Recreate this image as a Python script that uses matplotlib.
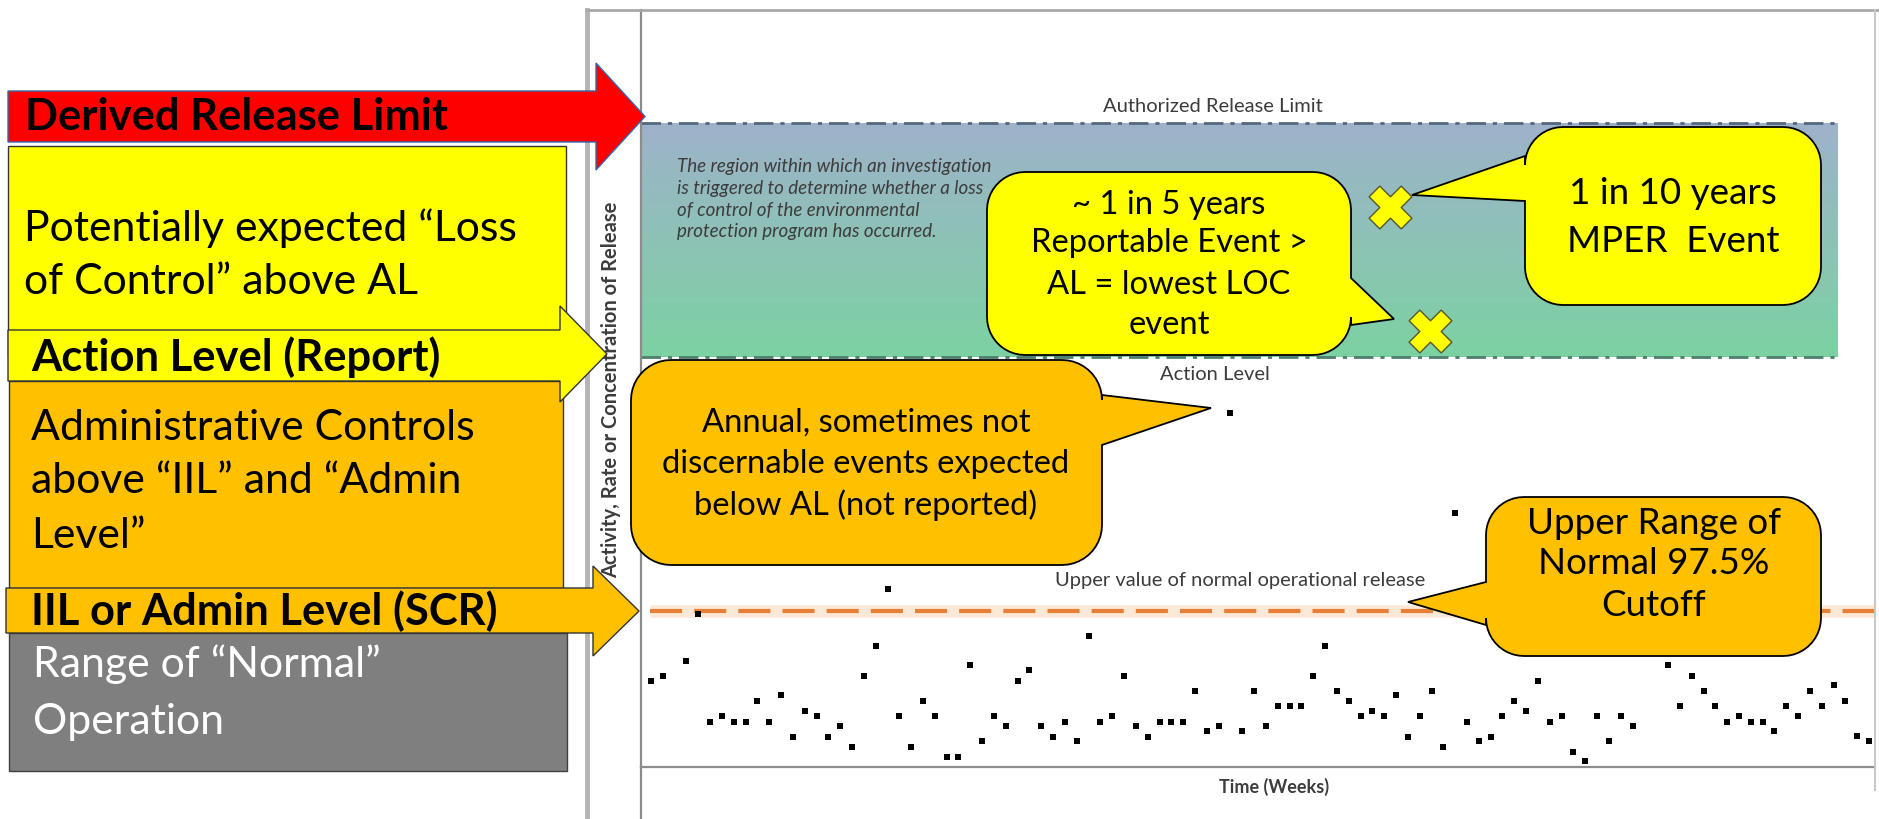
import numpy as np
import matplotlib
matplotlib.use("Agg")
import matplotlib.pyplot as plt
from matplotlib.patches import Polygon

plt.rcParams["font.family"] = ["Lato", "DejaVu Sans"]

# weekly release measurements (arbitrary activity units)
weeks = [1, 2, 4, 5, 6, 7, 8, 9, 10, 11, 12, 13, 14, 15, 16, 17, 18, 19, 20,
         21, 22, 23, 24, 25, 26, 27, 28, 29, 30, 31, 32, 33, 34, 35, 36, 37, 38,
         39, 40, 41, 42, 43, 44, 45, 46, 47, 48, 49, 50, 51, 52, 53, 54, 55, 56,
         57, 58, 59, 60, 61, 62, 63, 64, 65, 66, 67, 68, 69, 70, 71, 72, 73, 74,
         75, 76, 77, 78, 79, 80, 81, 82, 83, 84, 87, 88, 89, 90, 91, 92, 93, 94,
         95, 96, 97, 98, 99, 100, 101, 102, 103, 104]
release = [11.4, 12.0, 14.0, 20.2, 5.9, 6.7, 5.9, 5.9, 8.7, 5.9, 9.5, 4.0, 7.4,
           6.7, 4.0, 5.4, 2.6, 12.0, 16.0, 23.5, 6.7, 2.6, 8.7, 6.7, 1.3, 1.3,
           13.5, 3.4, 6.7, 5.4, 11.4, 12.8, 5.4, 4.0, 5.9, 3.4, 17.3, 5.9, 6.7,
           12.0, 5.4, 4.0, 5.9, 5.9, 5.9, 10.0, 4.8, 5.4, 46.8, 4.8, 10.0, 5.4,
           8.1, 8.1, 8.1, 12.0, 16.0, 10.0, 8.7, 6.7, 7.4, 6.7, 9.5, 4.0, 6.7,
           10.0, 2.6, 33.6, 5.9, 3.4, 4.0, 6.7, 8.7, 7.4, 11.4, 5.9, 6.7, 2.0,
           0.8, 6.7, 3.4, 6.7, 5.4, 13.5, 8.1, 12.0, 10.0, 8.1, 5.9, 6.7, 5.9,
           5.9, 4.8, 8.1, 6.7, 10.0, 8.1, 10.8, 8.7, 4.1, 3.4]

normal_upper = 20.6
action_level = 54.2
release_limit = 85.1
band_end_week = 101.3

# loss-of-control events marked with a cross
event_weeks = [63.5, 66.9]
event_values = [74.0, 57.6]

W, H = 1879, 819
fig = plt.figure(figsize=(W / 100, H / 100), dpi=100)

# ---- chart area -----------------------------------------------------------
ax_l, ax_r, ax_t, ax_b = 641, 1875, 10, 767
ax = fig.add_axes([ax_l / W, (H - ax_b) / H, (ax_r - ax_l) / W, (ax_b - ax_t) / H])
ax.set_xlim(0.154, 104.5)
ax.set_ylim(0, 100)
ax.set_xticks([])
ax.set_yticks([])
for side in ("top", "right"):
    ax.spines[side].set_visible(False)
for side in ("left", "bottom"):
    ax.spines[side].set_color("#8c8c8c")
    ax.spines[side].set_linewidth(1.6)

grad = np.linspace(0, 1, 256).reshape(-1, 1)
top_c = np.array([158, 178, 202]) / 255
bot_c = np.array([124, 210, 162]) / 255
img = (grad[..., None] * bot_c + (1 - grad[..., None]) * top_c)
ax.imshow(img, extent=[0.154, band_end_week, action_level, release_limit],
          aspect="auto", origin="upper", zorder=1)

ax.hlines(release_limit, 0.154, band_end_week, colors="#55677e", lw=2,
          linestyles=(0, (7, 2.5, 1.5, 2.5)), zorder=2)
ax.hlines(action_level, 0.154, band_end_week, colors="#4c7f6e", lw=2,
          linestyles=(0, (7, 2.5, 1.5, 2.5)), zorder=2)
ax.hlines(normal_upper, 0.9, 104.5, colors="#fbd9bd", lw=9, alpha=0.6, zorder=2)
ax.hlines(normal_upper, 0.9, 104.5, colors="#e67f37", lw=3,
          linestyles=(0, (7.7, 2.9)), zorder=2)

ax.scatter(weeks, release, marker="s", s=20, color="black", lw=0, zorder=4)
ax.scatter(event_weeks, event_values, marker="X", s=950, color="#ffff00",
           edgecolors="#555533", linewidths=1, zorder=5)

small = dict(color="#3c3c3c", fontsize=14.5)
ax.text(48.5, release_limit + 2.1, "Authorized Release Limit", ha="center", va="center", **small)
ax.text(48.7, action_level - 2.3, "Action Level", ha="center", va="center", **small)
ax.text(50.8, normal_upper + 4.1, "Upper value of normal operational release",
        ha="center", va="center", **small)
ax.text(3.2, 75.0, "The region within which an investigation\n"
        "is triggered to determine whether a loss\n"
        "of control of the environmental\n"
        "protection program has occurred.",
        ha="left", va="center", style="italic", color="#3c3c3c", fontsize=13.5,
        linespacing=1.34, zorder=3)

ax.set_ylabel("Activity, Rate or Concentration of Release", fontsize=14.5,
              fontweight="bold", color="#3c3c3c")
ax.yaxis.set_label_coords(-0.0158, 0.498)
ax.set_xlabel("Time (Weeks)", fontsize=13, fontweight="bold", color="#3c3c3c")
ax.xaxis.set_label_coords(0.513, -0.015)

# ---- overlay in pixel coordinates -----------------------------------------
ov = fig.add_axes([0, 0, 1, 1])
ov.set_xlim(0, W)
ov.set_ylim(H, 0)
ov.axis("off")
ov.set_zorder(ax.get_zorder() + 1)

ov.plot([587, 587], [10, H], color="#b4b4b4", lw=3.5, zorder=1)
ov.plot([587, W], [10, 10], color="#a8a8a8", lw=2, zorder=1)
ov.plot([641, 641], [767, H], color="#8c8c8c", lw=1.6, zorder=1)
ov.plot([1875, 1875], [10, 790], color="#c8c8c8", lw=1.5, zorder=1)


def block_arrow(x0, xh, xt, yb0, yb1, yh0, yh1, face, edge, z):
    yt = (yh0 + yh1) / 2
    pts = [(x0, yb0), (xh, yb0), (xh, yh0), (xt, yt), (xh, yh1), (xh, yb1), (x0, yb1)]
    ov.add_patch(Polygon(pts, closed=True, fc=face, ec=edge, lw=1, zorder=z))


def box(x0, y0, x1, y1, face, edge, z):
    pts = [(x0, y0), (x1, y0), (x1, y1), (x0, y1)]
    ov.add_patch(Polygon(pts, closed=True, fc=face, ec=edge, lw=1, zorder=z))


def callout(x0, y0, x1, y1, r, side, b0, b1, tip, face, z=6):
    def arc(cx, cy, a0, a1):
        t = np.radians(np.linspace(a0, a1, 12))
        return list(zip(cx + r * np.cos(t), cy + r * np.sin(t)))
    pts = []
    pts += arc(x1 - r, y0 + r, -90, 0)
    if side == "right":
        pts += [(x1, b0), tip, (x1, b1)]
    pts += arc(x1 - r, y1 - r, 0, 90)
    pts += arc(x0 + r, y1 - r, 90, 180)
    if side == "left":
        pts += [(x0, b1), tip, (x0, b0)]
    pts += arc(x0 + r, y0 + r, 180, 270)
    ov.add_patch(Polygon(pts, closed=True, fc=face, ec="black", lw=1.3, zorder=z))


RED, YEL, ORA, GRY = "#ff0000", "#ffff00", "#ffc000", "#7f7f7f"

box(8, 146, 566, 357, YEL, "#333333", 2)
box(9, 381, 563, 588, ORA, "#333333", 2)
box(9, 633, 567, 771, GRY, "#404040", 2)
block_arrow(8, 596, 645, 91, 142, 63, 170, RED, "#3a66a8", 3)
block_arrow(8, 560, 607, 330, 381, 306, 402, YEL, "#333333", 3)
block_arrow(6, 593, 639, 588, 633, 566, 656, ORA, "#333333", 3)

reg, bold = 30.8, 31.3
ov.text(25, 117, "Derived Release Limit", fontsize=bold, fontweight="bold", va="center", zorder=8)
ov.text(24, 228, "Potentially expected \u201cLoss", fontsize=reg, va="center", zorder=8)
ov.text(24, 282, "of Control\u201d above AL", fontsize=reg, va="center", zorder=8)
ov.text(31, 357, "Action Level (Report)", fontsize=bold, fontweight="bold", va="center", zorder=8)
ov.text(31, 428, "Administrative Controls", fontsize=reg, va="center", zorder=8)
ov.text(31, 481, "above \u201cIIL\u201d and \u201cAdmin", fontsize=reg, va="center", zorder=8)
ov.text(31, 536, "Level\u201d", fontsize=reg, va="center", zorder=8)
ov.text(31, 611, "IIL or Admin Level (SCR)", fontsize=bold, fontweight="bold", va="center", zorder=8)
ov.text(33, 664, "Range of \u201cNormal\u201d", fontsize=reg, color="white", va="center", zorder=8)
ov.text(33, 722, "Operation", fontsize=reg, color="white", va="center", zorder=8)

callout(631, 360, 1102, 565, 40, "right", 395, 445, (1211, 408), ORA)
callout(987, 172, 1351, 355, 38, "right", 278, 325, (1394, 319), YEL)
callout(1525, 127, 1821, 305, 38, "left", 156, 201, (1412, 195), YEL)
callout(1486, 497, 1821, 656, 38, "left", 582, 625, (1408, 602), ORA)

cs, cb = 23.6, 26.5
for y, s in zip([423, 464, 505], ["Annual, sometimes not", "discernable events expected",
                                   "below AL (not reported)"]):
    ov.text(866, y, s, fontsize=cs, ha="center", va="center", zorder=8)
for y, s in zip([205, 243, 285, 325], ["~ 1 in 5 years", "Reportable Event >",
                                        "AL = lowest LOC", "event"]):
    ov.text(1169, y, s, fontsize=cs, ha="center", va="center", zorder=8)
for y, s in zip([193, 242], ["1 in 10 years", "MPER  Event"]):
    ov.text(1673, y, s, fontsize=cb, ha="center", va="center", zorder=8)
for y, s in zip([524, 564, 605], ["Upper Range of", "Normal 97.5%", "Cutoff"]):
    ov.text(1654, y, s, fontsize=cb, ha="center", va="center", zorder=8)

fig.savefig("out.png", dpi=100)
